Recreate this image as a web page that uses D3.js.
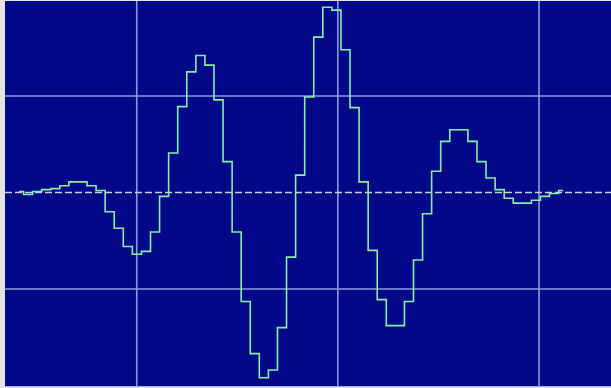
<!DOCTYPE html>
<html>
<head>
<meta charset="utf-8">
<script src="https://cdn.jsdelivr.net/npm/d3@7"></script>
<style>
  html, body { margin: 0; padding: 0; background: #e4e4e4; }
  svg { display: block; }
</style>
</head>
<body>
<script>
// Sampled trace, in vertical divisions, one value per sample
const sampleValues = [
  0.01, -0.02, 0.01, 0.03, 0.04, 0.07, 0.11, 0.11, 0.07, 0.02,
  -0.20, -0.37, -0.56, -0.64, -0.61, -0.41, -0.04, 0.41, 0.89, 1.25,
  1.42, 1.32, 0.96, 0.32, -0.41, -1.13, -1.67, -1.92, -1.84, -1.40,
  -0.67, 0.18, 0.99, 1.61, 1.92, 1.89, 1.48, 0.88, 0.11, -0.60,
  -1.11, -1.38, -1.38, -1.13, -0.70, -0.22, 0.22, 0.53, 0.65, 0.65,
  0.53, 0.32, 0.15, 0.03, -0.06, -0.11, -0.11, -0.08, -0.04, -0.01,
  0.02
];
// Time of the first sample and sample spacing, in horizontal divisions
const sampleStart = 0.4146;
const samplePeriod = 0.04509;

// Visible window, in divisions
const timeRange = [0.345, 3.358];
const levelRange = [-2, 2];

// Graticule
const gridTimes = [1, 2, 3];
const gridLevels = [1, -1];
const zeroLevels = [0];

const W = 611, H = 388;
const plot = { left: 5, top: 1, right: 611, bottom: 386 };

const svg = d3.select("body").append("svg")
  .attr("width", W).attr("height", H);

// light outer frame
svg.append("rect").attr("x", 0).attr("y", 0).attr("width", W).attr("height", H)
  .attr("fill", "#e4e4e4");

svg.append("defs").append("clipPath").attr("id", "plotClip")
  .append("rect")
  .attr("x", plot.left).attr("y", plot.top)
  .attr("width", plot.right - plot.left).attr("height", plot.bottom - plot.top);

svg.append("rect")
  .attr("x", plot.left).attr("y", plot.top)
  .attr("width", plot.right - plot.left).attr("height", plot.bottom - plot.top)
  .attr("fill", "#020888");

const x = d3.scaleLinear().domain(timeRange).range([plot.left, plot.right]);
const y = d3.scaleLinear().domain(levelRange).range([385.5, -0.5]);

const g = svg.append("g").attr("clip-path", "url(#plotClip)");

// vertical graticule
g.selectAll("line.gx").data(gridTimes).join("line")
  .attr("class", "gx")
  .attr("x1", d => x(d)).attr("x2", d => x(d))
  .attr("y1", plot.top).attr("y2", plot.bottom)
  .attr("stroke", "#8e9ade").attr("stroke-width", 1.6);

// horizontal graticule
g.selectAll("line.gy").data(gridLevels).join("line")
  .attr("class", "gy")
  .attr("x1", plot.left).attr("x2", plot.right)
  .attr("y1", d => y(d)).attr("y2", d => y(d))
  .attr("stroke", "#8e9ade").attr("stroke-width", 1.6);

// zero reference, dashed
g.selectAll("line.g0").data(zeroLevels).join("line")
  .attr("class", "g0")
  .attr("x1", plot.left).attr("x2", plot.right)
  .attr("y1", d => y(d)).attr("y2", d => y(d))
  .attr("stroke", "#c9cdf2").attr("stroke-width", 1.6)
  .attr("stroke-dasharray", "7,3");

// the step trace
const line = d3.line()
  .x((d, i) => x(sampleStart + i * samplePeriod))
  .y(d => y(d))
  .curve(d3.curveStep);

g.append("path")
  .datum(sampleValues)
  .attr("d", line)
  .attr("fill", "none")
  .attr("stroke", "#86f0a8")
  .attr("stroke-width", 1.6)
  .attr("stroke-linejoin", "miter");

// bottom edge of the screen
svg.append("line")
  .attr("x1", plot.left).attr("x2", plot.right)
  .attr("y1", plot.bottom + 0.5).attr("y2", plot.bottom + 0.5)
  .attr("stroke", "#a6aae6").attr("stroke-width", 1);
</script>
</body>
</html>
